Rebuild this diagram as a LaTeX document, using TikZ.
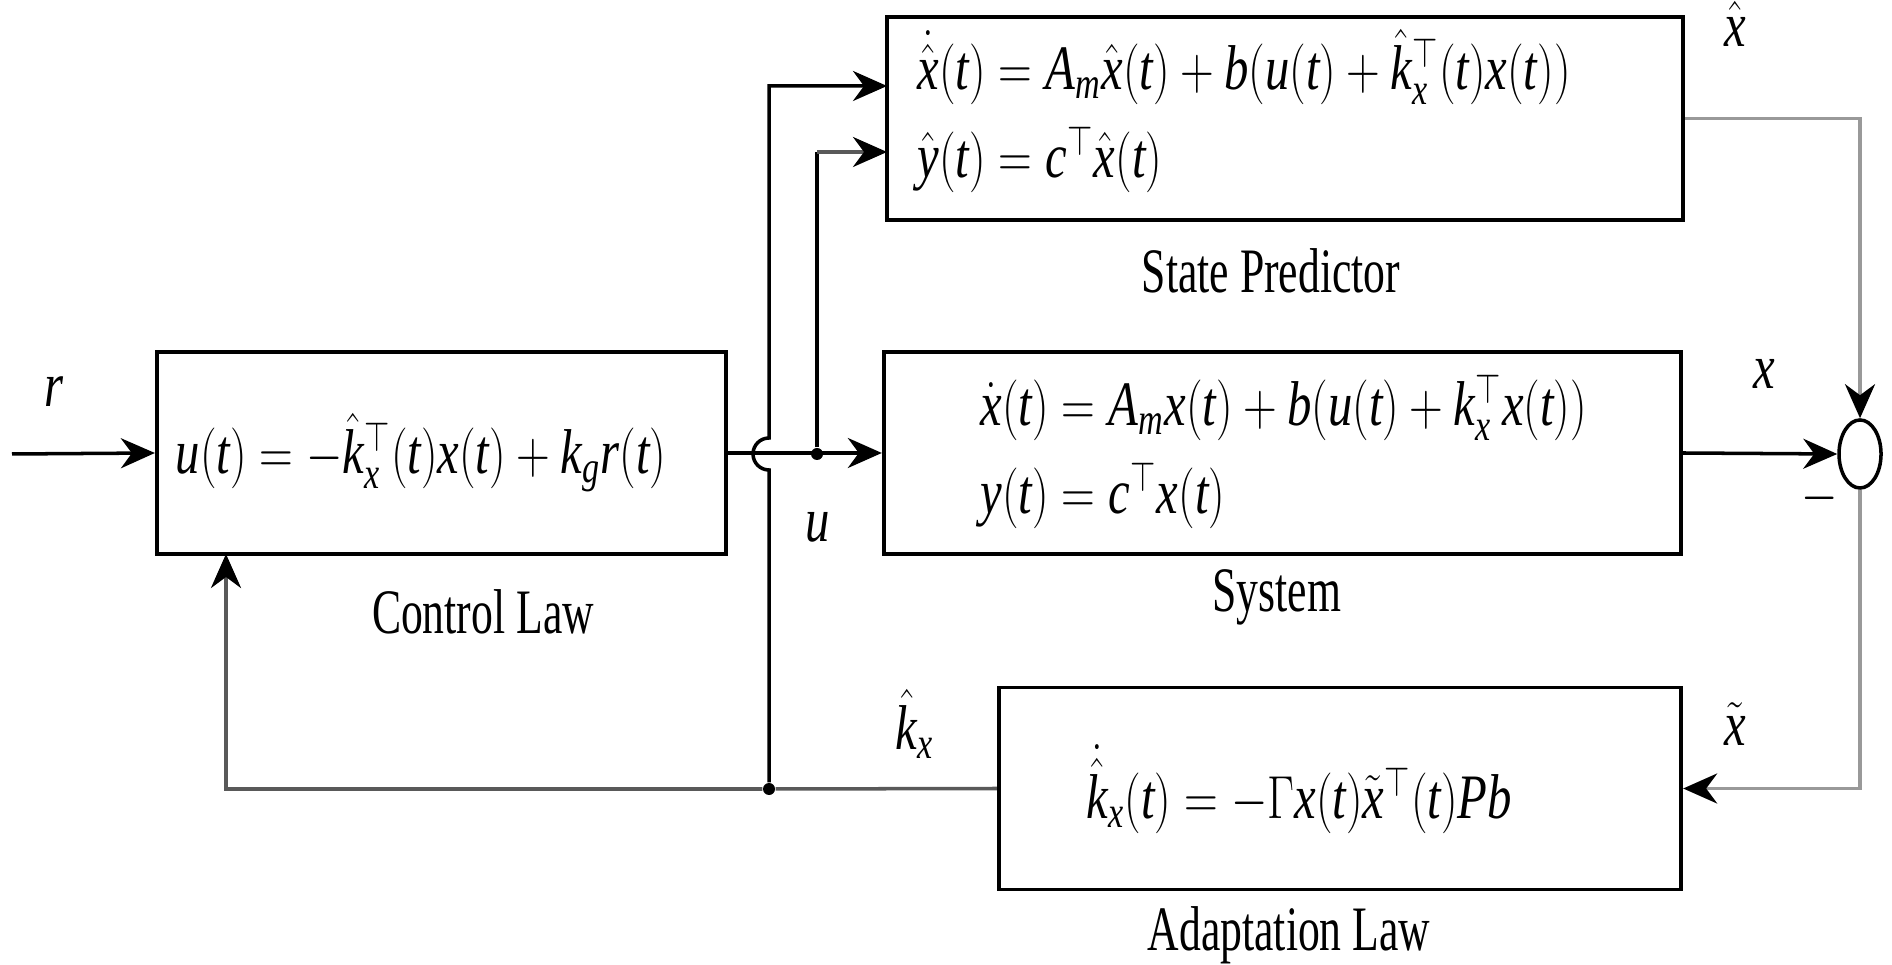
\documentclass[tikz,border=0pt]{standalone}
\usepackage{fontspec}
\setmainfont{Liberation Serif}
\DeclareSymbolFont{letters}{TU}{\rmdefault}{m}{it}
\usepackage{graphicx}
\usetikzlibrary{arrows.meta,shapes.geometric}
\newcommand{\nx}[1]{\scalebox{0.69}[1]{#1}}
\newcommand{\mx}[1]{\scalebox{0.77}[1]{#1}}
\definecolor{lgray}{gray}{0.6}
\definecolor{dgray}{gray}{0.35}
\begin{document}
\begin{tikzpicture}[x=0.01cm,y=0.01cm,
  blk/.style={draw, line width=1.1pt, minimum height=2.02cm, inner sep=0pt},
  lbl/.style={font=\fontsize{18}{25}\selectfont, inner sep=0pt},
  conn/.style={line width=1pt, -{Stealth[length=0.34cm,width=0.3cm,inset=0.11cm,color=black]}},
  ln/.style={line width=1pt},
  dotn/.style={circle, fill, inner sep=0pt, minimum size=0.12cm},
  sumn/.style={draw, ellipse, line width=1pt, minimum width=0.42cm, minimum height=0.68cm, inner sep=0pt},
  ]
\useasboundingbox (0,0) rectangle (1892,964);
% blocks
\node[blk, minimum width=5.69cm] (cl) at (441.5,511) {};
\node[blk, minimum width=7.96cm, minimum height=2.03cm] (sp) at (1285,845.5) {};
\node[blk, minimum width=7.97cm] (sys) at (1282.5,511) {};
\node[blk, minimum width=6.82cm] (al) at (1340,175.5) {};
\node[sumn] (sum) at (1860,510) {};
% formulas
\node[lbl, anchor=west] (clf) at (175,511) {\mx{$u(t)=-\hat{k}_x^{\top}(t)x(t)+k_g r(t)$}};
\node[lbl, anchor=west] (spf) at (917,848) {\mx{$\begin{array}{@{}l@{}}\dot{\hat{x}}(t)=A_m\hat{x}(t)+b(u(t)+\hat{k}_x^{\top}(t)x(t))\\ \hat{y}(t)=c^{\top}\hat{x}(t)\end{array}$}};
\node[lbl, anchor=west] (sysf) at (980,512) {\mx{$\begin{array}{@{}l@{}}\dot{x}(t)=A_m x(t)+b(u(t)+k_x^{\top}x(t))\\ y(t)=c^{\top}x(t)\end{array}$}};
\node[lbl, anchor=west] (alf) at (1086,175) {\mx{$\dot{\hat{k}}_x(t)=-\Gamma x(t)\tilde{x}^{\top}(t)Pb$}};
% captions
\node[lbl] (clc) at (483,352) {\nx{Control Law}};
\node[lbl] (spc) at (1271,693) {\nx{State Predictor}};
\node[lbl] (sysc) at (1277,367) {\nx{System}};
\node[lbl] (alc) at (1289,29) {\nx{Adaptation Law}};
% signal labels
\node[lbl] (lr) at (54,572) {\mx{$r$}};
\node[lbl] (lu) at (818,437) {\mx{$u$}};
\node[lbl] (lxh) at (1735,940) {\mx{$\hat{x}$}};
\node[lbl] (lx) at (1764,590) {\mx{$x$}};
\node[lbl] (lm) at (1820,466) {\mx{$-$}};
\node[lbl] (lxt) at (1735,240) {\mx{$\tilde{x}$}};
\node[lbl] (lk) at (915,240) {\mx{$\hat{k}_x$}};
% helper coordinates
\coordinate (in) at (12,510);
\coordinate (sp1) at (887,878);
\coordinate (sp2) at (887,812);
\coordinate (clb) at (226,410);
\node[dotn] (d1) at (817,510) {};
\node[dotn] (d2) at (769,175) {};
% connectors
\draw[conn] (in) -- (cl.west);
\draw[conn] (cl.east) -- (sys.west);
\draw[ln] (d1) -- (817,812);
\draw[conn, draw=dgray] (817,812) -- (sp2);
\draw[conn] (d2) -- (769,494) arc[start angle=-90, end angle=-270, radius=16] -- (769,878) -- (sp1);
\draw[conn, draw=dgray] (al.west) -- (d2) -- (226,175) -- (clb);
\draw[conn, draw=lgray] (sp.east) -| (sum.north);
\draw[conn] (sys.east) -- (sum.west);
\draw[conn, draw=lgray] (sum.south) |- (al.east);
\end{tikzpicture}
\end{document}
